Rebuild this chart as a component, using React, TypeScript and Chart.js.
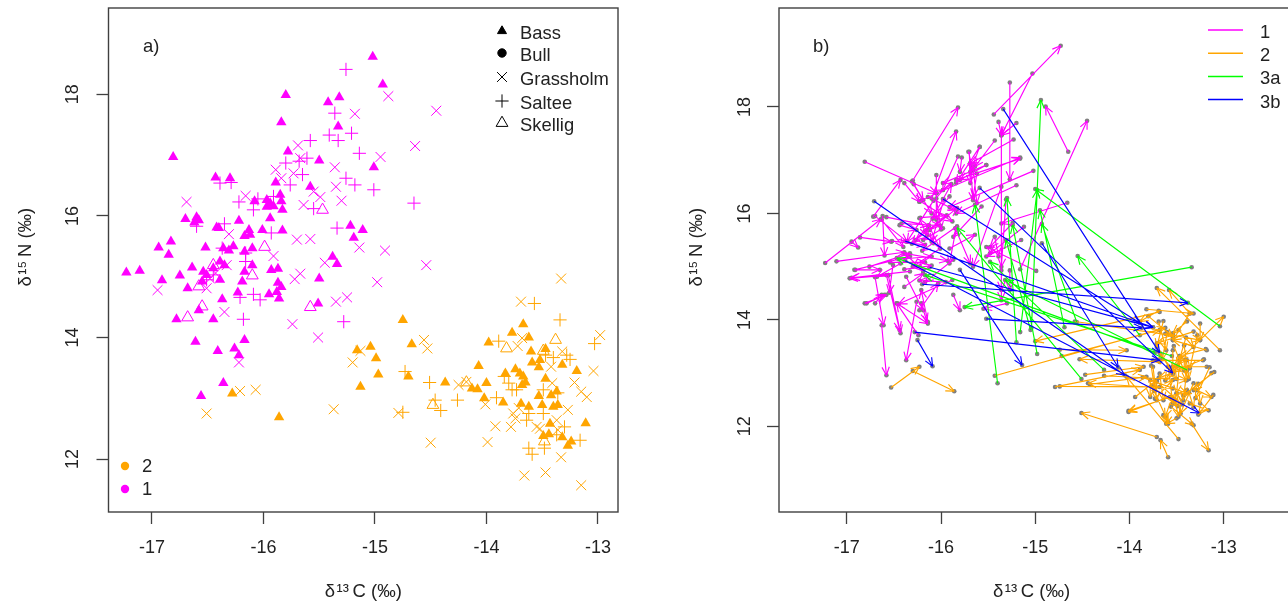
import React, { useEffect, useRef } from "react";
import { Chart, registerables } from "chart.js";
import { drawPoint } from "chart.js/helpers";

Chart.register(...registerables);

const C1 = "#ff00ff";
const C2 = "#ffa500";
const C3A = "#00ff00";
const C3B = "#0000ff";
const INK = "#222222";
const FONT = "'Liberation Sans', Arial, sans-serif";

const xTickValues = [-17, -16, -15, -14, -13];
const yTickValues = [12, 14, 16, 18];
const axisTitleX = "δ\u200A¹³\u2009C (‰)";
const axisTitleY = "\u00A0\u00A0\u00A0\u00A0\u00A0δ\u200A¹⁵\u2009N (‰)";
const speciesNames = ["Bass", "Bull", "Grassholm", "Saltee", "Skellig"];
const groupNames = ["2", "1"];
const routeNames = ["1", "2", "3a", "3b"];

const bass1 = [[-15.02,18.62],[-14.93,18.16],[-15.80,17.99],[-15.42,17.87],[-15.32,17.95],[-15.84,17.54],[-15.33,17.47],[-16.81,16.97],[-15.78,17.06],[-15.50,16.91],[-15.01,16.80],[-16.43,16.63],[-16.30,16.62],[-15.89,16.55],[-15.58,16.48],[-15.85,16.35],[-15.97,16.26],[-16.08,16.24],[-15.94,16.21],[-15.84,16.24],[-15.97,16.15],[-15.91,16.16],[-15.83,16.10],[-16.70,15.95],[-16.60,15.98],[-16.62,15.89],[-16.58,15.93],[-16.22,15.92],[-15.94,15.96],[-16.42,15.81],[-16.40,15.80],[-16.13,15.77],[-16.17,15.67],[-16.12,15.69],[-16.01,15.77],[-15.83,15.76],[-15.22,15.84],[-15.11,15.77],[-15.19,15.64],[-16.94,15.48],[-16.83,15.58],[-16.85,15.36],[-16.52,15.48],[-16.36,15.47],[-16.31,15.43],[-16.27,15.50],[-16.10,15.47],[-16.17,15.41],[-15.38,15.33],[-17.23,15.07],[-17.11,15.10],[-16.91,14.94],[-16.75,15.02],[-16.64,15.15],[-16.68,14.81],[-16.54,15.08],[-16.55,14.92],[-16.51,15.03],[-16.45,15.14],[-16.39,15.25],[-16.35,15.19],[-16.39,14.95],[-16.17,15.08],[-16.10,15.19],[-16.19,14.92],[-16.23,14.74],[-15.93,15.11],[-15.87,15.13],[-15.87,14.90],[-15.84,14.83],[-15.88,14.75],[-15.95,14.71],[-15.86,14.64],[-15.50,14.97],[-15.34,15.21],[-15.51,14.56],[-16.37,14.63],[-16.58,14.45],[-16.78,14.30],[-16.45,14.30],[-16.61,13.93],[-16.41,13.78],[-16.26,13.82],[-16.22,13.71],[-16.17,13.96],[-16.36,13.25],[-16.56,13.04]];
const grassholm1 = [[-14.88,17.97],[-15.18,17.68],[-14.95,16.97],[-15.36,16.80],[-15.69,17.16],[-15.89,16.76],[-15.35,16.48],[-15.49,16.31],[-15.30,16.25],[-15.64,16.18],[-15.70,15.61],[-15.58,15.62],[-15.14,15.48],[-14.91,15.43],[-16.16,16.33],[-16.69,16.23],[-16.31,15.70],[-15.91,15.34],[-15.84,16.62],[-15.73,16.70],[-15.55,16.40],[-15.67,16.95],[-14.45,17.73],[-14.64,17.15],[-16.95,14.78],[-16.35,14.42],[-15.74,14.22],[-15.51,14.00],[-15.72,14.96],[-15.67,15.05],[-15.45,15.23],[-14.98,14.91],[-15.35,14.59],[-15.25,14.66],[-16.22,13.59],[-16.33,15.19],[-16.48,14.97],[-16.43,15.06],[-16.51,14.81],[-14.54,15.19]];
const saltee1 = [[-15.26,18.41],[-15.36,17.69],[-15.58,17.24],[-15.41,17.33],[-15.33,17.24],[-15.21,17.36],[-15.14,17.03],[-15.26,16.62],[-15.18,16.51],[-15.01,16.43],[-15.61,16.95],[-15.68,16.90],[-15.80,16.87],[-15.65,16.68],[-15.76,16.51],[-16.39,16.54],[-16.29,16.55],[-16.22,16.23],[-16.05,16.28],[-16.09,16.10],[-15.91,16.32],[-15.55,16.12],[-16.60,15.83],[-16.35,15.87],[-15.34,15.80],[-15.93,15.72],[-16.37,15.47],[-16.16,15.39],[-16.16,15.25],[-16.21,14.66],[-16.09,14.71],[-16.03,14.62],[-16.18,14.30],[-15.28,14.26],[-16.45,15.03],[-16.51,14.95],[-14.65,16.21]];
const skellig1 = [[-15.47,16.10],[-15.99,15.49],[-16.10,15.02],[-16.58,14.84],[-16.55,14.51],[-16.68,14.33],[-15.58,14.50],[-16.45,15.19]];
const bass2 = [[-15.16,13.79],[-15.04,13.85],[-14.99,13.66],[-14.97,13.39],[-15.13,13.19],[-16.28,13.08],[-15.86,12.69],[-14.75,14.29],[-14.67,13.89],[-14.70,13.36],[-14.07,13.53],[-14.37,13.26],[-14.13,13.16],[-14.08,13.15],[-14.00,13.25],[-14.02,13.00],[-13.85,12.93],[-13.98,13.92],[-13.77,14.08],[-13.67,14.22],[-13.62,14.00],[-13.60,13.77],[-13.59,13.59],[-13.47,13.81],[-13.52,13.63],[-13.53,13.51],[-13.32,13.55],[-13.19,13.45],[-13.83,13.41],[-13.74,13.48],[-13.70,13.41],[-13.67,13.36],[-13.65,13.26],[-13.68,13.22],[-13.47,13.32],[-13.53,13.04],[-13.42,13.05],[-13.37,13.11],[-13.69,12.91],[-13.62,12.86],[-13.50,12.89],[-13.40,12.86],[-13.36,12.89],[-13.43,12.58],[-13.11,12.59],[-13.49,12.38],[-13.44,12.41],[-13.32,12.36],[-13.27,12.22],[-13.24,12.29]];
const grassholm2 = [[-15.13,13.78],[-15.20,13.59],[-15.37,12.82],[-16.21,13.12],[-16.07,13.14],[-16.51,12.75],[-14.79,12.76],[-13.33,14.97],[-13.69,14.59],[-12.98,14.04],[-14.56,13.96],[-14.53,13.82],[-13.68,13.99],[-13.72,13.86],[-13.32,13.77],[-13.42,13.52],[-13.04,13.45],[-13.21,13.26],[-13.41,13.25],[-14.18,13.27],[-14.25,13.22],[-13.10,13.02],[-13.15,13.11],[-14.01,12.90],[-13.27,12.81],[-13.92,12.54],[-13.78,12.53],[-13.76,12.75],[-13.71,12.84],[-13.74,12.67],[-13.55,12.53],[-13.52,12.50],[-13.37,12.64],[-13.36,12.48],[-14.50,12.27],[-13.99,12.28],[-13.66,11.73],[-13.47,11.78],[-13.33,12.03],[-13.15,11.57]];
const saltee2 = [[-13.57,14.56],[-13.34,14.29],[-13.03,13.90],[-13.89,13.94],[-13.28,13.71],[-13.25,13.64],[-13.40,13.67],[-13.47,13.71],[-14.73,13.44],[-14.51,13.26],[-14.26,12.97],[-14.46,12.97],[-14.41,12.80],[-14.75,12.77],[-13.91,13.01],[-13.84,13.36],[-13.80,13.25],[-13.77,13.14],[-13.73,13.14],[-13.49,13.14],[-13.36,13.09],[-13.62,12.75],[-13.49,12.75],[-13.64,12.64],[-13.30,12.53],[-13.37,12.40],[-13.16,12.31],[-13.62,12.18],[-13.59,12.08],[-13.48,12.18]];
const skellig2 = [[-13.38,13.96],[-13.82,13.82],[-13.49,13.78],[-14.18,13.26],[-14.48,12.89],[-13.48,12.29]];

const arrows1 = [[-16.81,16.97,-16.05,16.38],[-16.72,15.94,-16.43,16.63],[-17.23,15.07,-16.64,15.89],[-17.11,15.10,-16.39,15.27],[-16.86,15.55,-16.53,15.47],[-16.95,15.47,-16.88,15.36],[-16.30,16.62,-15.82,17.99],[-16.10,16.28,-15.84,17.54],[-16.62,15.95,-16.60,15.21],[-16.05,16.38,-15.16,17.05],[-15.44,17.86,-14.73,19.15],[-15.03,18.63,-15.36,17.47],[-15.27,18.46,-15.27,16.64],[-14.65,17.16,-14.89,18.01],[-15.16,14.95,-14.45,17.74],
[-16.05,16.72,-16.05,15.88],[-16.31,16.60,-16.19,16.25],[-16.39,16.57,-16.23,16.22],[-16.23,16.22,-15.98,16.44],[-16.14,16.31,-15.84,16.06],[-15.82,17.07,-15.98,16.44],[-15.70,17.16,-15.69,16.57],[-15.59,17.25,-15.84,16.57],[-15.52,16.91,-15.98,16.57],[-15.62,16.75,-15.66,16.31],[-15.57,16.13,-15.87,15.56],[-15.84,15.72,-15.91,15.06],[-15.85,15.72,-15.69,15.06],[-15.98,15.72,-16.19,15.50],[-16.15,15.69,-16.08,15.44],[-16.44,15.78,-16.26,15.69],[-16.23,15.91,-16.15,15.59],[-16.63,15.88,-16.40,15.37],[-16.76,15.00,-16.33,15.25],[-16.92,14.94,-16.33,15.19],[-16.33,14.91,-16.95,14.79],[-16.70,14.80,-16.61,13.90],[-16.58,14.84,-16.44,13.81],[-16.37,14.81,-16.19,14.18],[-16.39,14.62,-16.19,14.87],[-16.81,14.31,-16.58,14.47],[-16.70,14.31,-16.63,14.47],[-16.47,14.31,-16.14,13.93],[-16.23,14.18,-16.03,14.69],[-16.21,14.31,-16.15,13.97],[-15.87,14.47,-15.80,14.18],
[-16.63,13.90,-16.58,12.96],[-16.26,14.34,-16.37,13.24],[-16.56,14.84,-16.43,13.75],[-16.14,13.96,-16.21,14.56],[-16.24,13.71,-16.47,14.31],[-16.79,14.31,-16.60,14.47],[-16.56,14.84,-16.97,14.78],[-16.91,14.94,-16.65,14.94],[-15.30,14.31,-15.55,14.21],[-15.36,14.93,-15.36,14.56],[-15.27,14.93,-15.27,14.56],
[-15.20,17.70,-15.36,17.47],[-15.23,17.39,-15.69,16.94],[-15.43,17.37,-15.64,16.88],[-15.59,17.25,-15.69,16.78],[-15.71,17.16,-15.66,16.81],[-15.78,17.05,-15.80,16.78],[-15.52,16.91,-15.80,16.63],[-15.84,16.63,-15.16,17.03],[-15.02,16.80,-15.91,16.12],[-15.20,16.53,-15.84,16.00],[-14.66,16.20,-15.36,15.81],[-15.43,15.56,-15.39,15.19],[-15.12,15.75,-15.48,15.25],[-15.15,15.50,-15.52,15.19],[-15.24,15.82,-15.48,15.37],[-15.31,16.26,-15.36,15.00],[-15.36,16.50,-15.66,15.00],[-14.99,14.92,-15.52,15.37],[-15.36,17.50,-15.36,14.37],[-15.39,17.72,-15.36,17.47],[-15.69,16.94,-15.66,16.25],[-15.66,16.88,-15.62,16.19],
[-16.42,15.81,-16.01,15.77],[-16.22,15.92,-15.94,15.96],[-16.70,15.95,-16.36,15.47],[-16.13,15.77,-16.31,15.43],[-16.17,15.67,-15.89,16.55],[-16.12,15.69,-15.83,16.10],[-15.94,15.96,-16.27,15.50],[-16.08,16.24,-16.36,15.47],[-16.58,15.93,-16.13,15.77],[-15.97,16.26,-16.10,15.47],[-16.52,15.48,-16.17,15.41],[-16.54,15.08,-16.17,15.08],[-16.45,15.14,-16.10,15.19],[-16.39,15.25,-15.93,15.11],[-16.35,15.19,-16.19,14.92],[-16.39,14.95,-16.10,15.02],[-15.95,14.71,-16.23,14.74],[-15.88,14.75,-16.45,14.30],[-15.87,15.13,-16.17,14.71],[-16.51,15.03,-16.55,14.51],[-16.43,15.06,-16.68,14.81],[-16.13,15.77,-16.01,15.34],[-16.01,15.34,-16.30,15.00],[-15.83,15.76,-16.20,15.30],[-15.91,15.34,-15.64,15.60],[-16.05,16.28,-16.00,15.70],[-15.91,16.32,-16.09,15.90],[-16.22,16.23,-15.88,15.85],[-16.29,16.55,-16.10,16.00]];

const arrows2 = [[-16.53,12.73,-16.23,13.12],[-16.30,13.04,-15.86,12.66],[-15.43,12.95,-13.62,13.85],[-13.68,14.15,-15.00,13.60],[-13.71,11.80,-14.51,12.25],[-13.59,11.42,-13.67,11.74],[-13.48,11.76,-14.03,12.93],[-13.34,12.05,-13.16,11.55],[-13.04,13.43,-13.71,14.60],[-13.36,14.12,-13.58,14.56],[-13.47,13.24,-13.00,14.06],[-13.57,12.55,-14.01,12.29],[-14.79,12.74,-13.89,13.06],[-13.54,12.71,-14.44,12.81],[-14.74,12.75,-13.68,12.74],[-14.47,12.97,-13.85,13.12],[-14.27,12.95,-13.39,12.87],[-13.68,13.21,-14.53,13.26],[-14.74,13.44,-14.03,13.43],[-14.72,13.32,-13.68,13.81],[-14.58,13.97,-13.54,13.71],[-14.42,12.79,-13.82,12.93],[-13.86,12.92,-13.39,12.62],[-13.94,12.55,-13.71,12.87],[-13.39,12.68,-14.01,12.27],[-13.82,14.20,-13.32,14.12],[-13.69,14.17,-13.89,13.97],[-13.80,14.07,-13.54,13.68],[-13.64,13.98,-13.71,13.49],[-13.69,13.97,-13.61,13.43],[-13.36,14.12,-13.54,13.62],[-13.48,13.81,-13.32,13.49],[-13.62,13.74,-13.25,13.62],[-13.32,13.78,-13.71,13.56],[-13.18,13.43,-13.54,13.62],[-13.22,13.24,-13.75,13.24],[-13.18,13.12,-13.54,13.12],[-13.13,13.00,-13.32,12.68],[-13.27,12.80,-13.25,12.43],[-13.29,12.68,-13.13,12.55],[-13.36,12.43,-13.16,12.30],[-13.56,12.37,-13.32,12.02],[-13.50,12.15,-13.61,12.05],[-13.46,12.24,-13.50,12.62],[-13.64,12.21,-13.59,12.05],[-13.75,13.12,-13.71,12.49],[-13.68,12.99,-13.64,12.49],[-13.59,13.12,-13.54,12.43],[-13.46,13.30,-13.50,12.62],[-13.39,13.05,-13.43,12.49],[-13.32,12.81,-13.46,12.24],[-13.78,12.87,-13.78,12.55],[-13.73,12.52,-13.54,12.87],[-13.54,13.43,-13.54,12.99],[-13.71,13.24,-13.39,13.24],[-13.25,13.93,-13.25,13.62],[-13.39,13.97,-13.54,13.75],
[-13.60,13.77,-13.65,13.26],[-13.53,13.51,-13.42,13.05],[-13.70,13.41,-13.53,13.04],[-13.67,13.36,-13.50,12.89],[-13.47,13.32,-13.62,12.86],[-13.37,13.11,-13.69,12.91],[-13.42,13.52,-13.37,12.89],[-13.41,13.25,-13.40,12.86],[-13.40,13.67,-13.49,13.14],[-13.28,13.71,-13.36,13.09],[-13.19,13.45,-13.47,13.32],[-13.21,13.26,-13.53,13.04],[-13.10,13.02,-13.43,12.58],[-13.15,13.11,-13.30,12.53],[-13.76,12.75,-13.49,12.38],[-13.71,12.84,-13.44,12.41],[-13.55,12.53,-13.62,12.18],[-13.52,12.50,-13.48,12.18],[-13.37,12.64,-13.32,12.36],[-13.11,12.59,-13.27,12.22],[-13.74,12.67,-13.59,12.08],[-13.77,13.14,-13.73,12.67]];

const arrows3a = [[-15.04,13.85,-14.94,18.13],[-15.16,13.77,-14.98,16.44],[-14.56,13.96,-14.93,15.80],[-13.04,13.88,-15.00,16.46],[-13.89,13.71,-14.55,15.20],[-14.51,12.89,-15.83,15.73],[-13.34,14.99,-15.75,14.24],[-13.73,13.39,-16.47,15.16],[-15.40,12.81,-15.64,16.16],[-15.20,13.58,-15.30,16.29],[-14.98,13.36,-15.24,15.78],[-15.05,13.81,-15.31,15.50],[-14.69,13.86,-14.95,16.06],[-14.27,13.06,-15.48,15.09],[-13.55,13.32,-16.17,14.84],[-13.39,13.06,-15.32,14.75]];

const arrows3b = [[-15.34,17.96,-13.68,13.38],[-15.59,16.48,-13.54,13.00],[-14.93,15.44,-14.12,13.11],[-15.98,16.27,-13.89,13.94],[-16.71,16.23,-14.05,12.96],[-16.38,15.48,-13.75,13.86],[-16.38,15.11,-13.26,12.25],[-16.12,14.99,-13.75,13.86],[-16.20,14.67,-13.38,14.32],[-15.52,14.02,-13.87,13.85],[-16.28,13.77,-13.68,13.24],[-16.25,13.62,-16.09,13.13],[-15.80,14.94,-15.14,13.15]];

const pts = (a: number[][]) => a.map(([x, y]) => ({ x, y }));

function marks(label: string, data: number[][], color: string, style: string) {
  const tri = style === "triangle";
  const open = label.startsWith("Skellig");
  return {
    label,
    data: pts(data),
    pointStyle: style,
    pointRadius: open ? 6.8 : tri ? 6 : style === "cross" ? 6.6 : 7,
    pointBackgroundColor: tri && !open ? color : "transparent",
    pointBorderColor: color,
    pointBorderWidth: tri && !open ? 0 : 1,
  };
}

function route(label: string, arrows: number[][], color: string, order: number) {
  return {
    label,
    arrows,
    order,
    data: arrows.flatMap((a) => [
      { x: a[0], y: a[1] },
      { x: a[2], y: a[3] },
      { x: NaN, y: NaN },
    ]),
    showLine: true,
    spanGaps: false,
    borderColor: color,
    borderWidth: 1.15,
    pointRadius: 0,
  };
}

function axes(xMin: number, xMax: number, yMin: number, yMax: number, left: number, yPad: number, titlePad: number) {
  const base = {
    grid: { drawOnChartArea: false, drawTicks: true, tickLength: 12, tickColor: "#404040", tickWidth: 1.3 },
    border: { display: false },
  };
  return {
    x: {
      ...base,
      type: "linear",
      min: xMin,
      max: xMax,
      afterBuildTicks: (s: any) => { s.ticks = xTickValues.map((value) => ({ value })); },
      afterFit: (s: any) => { s.height = 91; s.paddingLeft = 0; s.paddingRight = 0; },
      ticks: { autoSkip: false, maxRotation: 0, minRotation: 0, padding: 13, color: INK, font: { family: FONT, size: 18 }, callback: (v: any) => String(v) },
      title: { display: true, text: axisTitleX, color: INK, padding: { top: 5, bottom: 0 }, font: { family: FONT, size: 18.5 } },
    },
    y: {
      ...base,
      type: "linear",
      min: yMin,
      max: yMax,
      afterBuildTicks: (s: any) => { s.ticks = yTickValues.map((value) => ({ value })); },
      afterFit: (s: any) => { s.width = left; s.paddingTop = 0; s.paddingBottom = 0; },
      ticks: { autoSkip: false, minRotation: 90, maxRotation: 90, crossAlign: "center", padding: yPad, color: INK, font: { family: FONT, size: 18 }, callback: (v: any) => String(v) },
      title: { display: true, text: axisTitleY, color: INK, padding: { top: titlePad, bottom: 0 }, font: { family: FONT, size: 18.5 } },
    },
  };
}

function frame(extraRight: number) {
  return {
    id: "frame",
    afterDraw(chart: any) {
      const { ctx, chartArea: a } = chart;
      ctx.save();
      ctx.strokeStyle = "#404040";
      ctx.lineWidth = 1.4;
      ctx.strokeRect(a.left, a.top, a.right - a.left + extraRight, a.bottom - a.top);
      ctx.restore();
    },
  };
}

function label(ctx: any, text: string, x: number, y: number) {
  ctx.fillStyle = INK;
  ctx.font = `18.4px ${FONT}`;
  ctx.textAlign = "left";
  ctx.textBaseline = "middle";
  ctx.fillText(text, x, y);
}

const keyA = {
  id: "keyA",
  afterDraw(chart: any) {
    const { ctx } = chart;
    ctx.save();
    label(ctx, "a)", 143, 47);
    const styles = ["triangle", "circle", "crossRot", "cross", "triangle"];
    const ys = [31, 53, 77, 101, 123];
    speciesNames.forEach((n, i) => {
      label(ctx, n, 520, ys[i] + 3);
      const open = n === "Skellig";
      ctx.strokeStyle = "#000";
      ctx.fillStyle = i < 2 ? "#000" : "transparent";
      ctx.lineWidth = i < 2 ? 0 : 1;
      const r = i === 0 ? 5.2 : i === 1 ? 4.2 : open ? 6.8 : i === 2 ? 7 : 6.6;
      drawPoint(ctx, { pointStyle: styles[i], rotation: 0, radius: r, borderWidth: ctx.lineWidth } as any, 502, ys[i]);
    });
    groupNames.forEach((n, i) => {
      const y = 466 + i * 23;
      ctx.fillStyle = i === 0 ? C2 : C1;
      ctx.beginPath();
      ctx.arc(125, y, 4.2, 0, Math.PI * 2);
      ctx.fill();
      label(ctx, n, 142, y + 1);
    });
    ctx.restore();
  },
};

const keyB = {
  id: "keyB",
  afterDraw(chart: any) {
    const { ctx } = chart;
    ctx.save();
    label(ctx, "b)", 169, 47);
    const colors = [C1, C2, C3A, C3B];
    routeNames.forEach((n, i) => {
      const y = 30 + i * 23.2;
      ctx.strokeStyle = colors[i];
      ctx.lineWidth = 1.5;
      ctx.beginPath();
      ctx.moveTo(564, y);
      ctx.lineTo(599, y);
      ctx.stroke();
      label(ctx, n, 616, y + 3);
    });
    ctx.restore();
  },
};

const arrowHeads = {
  id: "arrowHeads",
  afterDatasetDraw(chart: any, args: any) {
    const ds = chart.data.datasets[args.index];
    if (!ds.arrows) return;
    const { ctx, scales } = chart;
    ctx.save();
    ctx.strokeStyle = ds.borderColor;
    ctx.lineWidth = 1.15;
    for (const a of ds.arrows) {
      const x1 = scales.x.getPixelForValue(a[0]);
      const y1 = scales.y.getPixelForValue(a[1]);
      const x2 = scales.x.getPixelForValue(a[2]);
      const y2 = scales.y.getPixelForValue(a[3]);
      const ang = Math.atan2(y2 - y1, x2 - x1);
      ctx.beginPath();
      for (const d of [-0.42, 0.42]) {
        ctx.moveTo(x2 - 9 * Math.cos(ang + d), y2 - 9 * Math.sin(ang + d));
        ctx.lineTo(x2, y2);
      }
      ctx.stroke();
    }
    ctx.restore();
  },
};

const allArrows = [arrows1, arrows2, arrows3a, arrows3b];

export default function App() {
  const a = useRef<HTMLCanvasElement>(null);
  const b = useRef<HTMLCanvasElement>(null);

  useEffect(() => {
    const common = {
      responsive: false,
      animation: false,
      plugins: { legend: { display: false }, tooltip: { enabled: false }, title: { display: false } },
    };
    const left = new Chart(a.current as any, {
      type: "scatter",
      data: {
        datasets: [
          marks("Bass 1", bass1, C1, "triangle"),
          marks("Grassholm 1", grassholm1, C1, "crossRot"),
          marks("Saltee 1", saltee1, C1, "cross"),
          marks("Skellig 1", skellig1, C1, "triangle"),
          marks("Bass 2", bass2, C2, "triangle"),
          marks("Grassholm 2", grassholm2, C2, "crossRot"),
          marks("Saltee 2", saltee2, C2, "cross"),
          marks("Skellig 2", skellig2, C2, "triangle"),
        ],
      },
      options: {
        ...common,
        layout: { padding: { top: 8, right: 26, left: 0, bottom: 0 } },
        scales: axes(-17.39, -12.82, 11.13, 19.42, 108.5, 13.5, 15),
      } as any,
      plugins: [frame(0), keyA],
    } as any);

    const ends = allArrows.flatMap((set) => set.flatMap((r) => [{ x: r[0], y: r[1] }, { x: r[2], y: r[3] }]));
    const right = new Chart(b.current as any, {
      type: "scatter",
      data: {
        datasets: [
          route("1", arrows1, C1, 3),
          route("2", arrows2, C2, 2),
          route("3a", arrows3a, C3A, 1),
          route("3b", arrows3b, C3B, 0),
          { label: "samples", data: ends, order: 4, pointRadius: 2.3, pointBorderWidth: 0, pointBackgroundColor: "#808080" },
        ],
      },
      options: {
        ...common,
        layout: { padding: { top: 8, right: 0, left: 0, bottom: 0 } },
        scales: axes(-17.72, -12.36, 10.39, 19.86, 135, 12, 42),
      } as any,
      plugins: [frame(8), keyB, arrowHeads],
    } as any);

    return () => {
      left.destroy();
      right.destroy();
    };
  }, []);

  return (
    <div style={{ position: "fixed", left: 0, top: 0, width: 1288, height: 603, overflow: "hidden", background: "#fff" }}>
      <canvas ref={a} width={644} height={603} style={{ position: "absolute", left: 0, top: 0, width: 644, height: 603 }} />
      <canvas ref={b} width={644} height={603} style={{ position: "absolute", left: 644, top: 0, width: 644, height: 603 }} />
    </div>
  );
}
